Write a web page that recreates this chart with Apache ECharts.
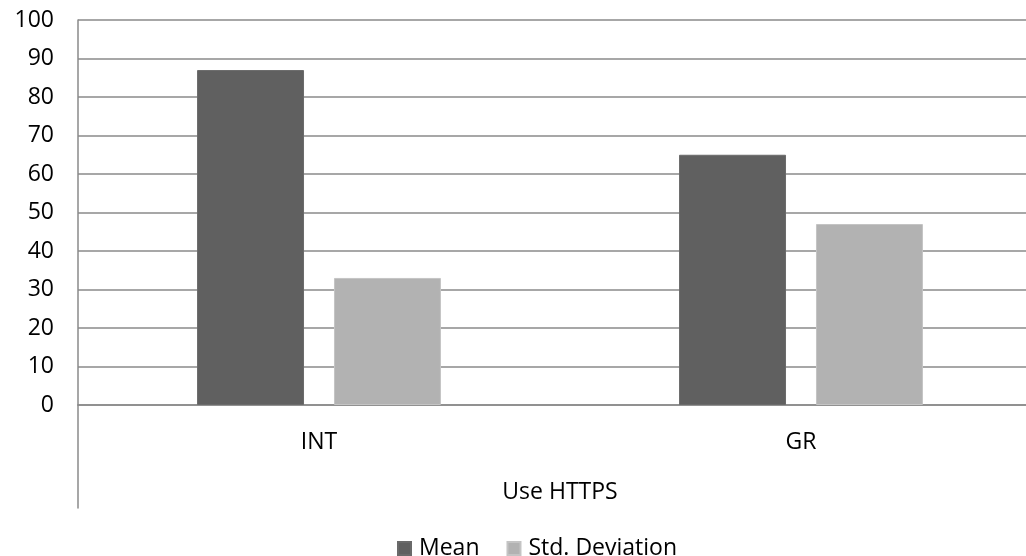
<!DOCTYPE html>
<html>
<head>
<meta charset="utf-8">
<script src="https://cdn.jsdelivr.net/npm/echarts@6/dist/echarts.min.js"></script>
<style>
html,body{margin:0;padding:0;background:#fff;overflow:hidden;width:1026px;height:556px;}
#chart{width:1042px;height:556px;}
</style>
</head>
<body>
<div id="chart"></div>
<script>
var categories = ['INT', 'GR'];
var meanValues = [87, 65];
var stdValues = [33, 47];
var axisTitle = 'Use HTTPS';
var yMin = 0, yMax = 100, yStep = 10;

var FONT = 'Open Sans';
var FS = 23;
var chart = echarts.init(document.getElementById('chart'));
var gridColor = '#8a8a8a';
chart.setOption({
  animation: false,
  backgroundColor: '#fff',
  textStyle: { fontFamily: FONT, color: '#000' },
  legend: {
    left: 392, top: 532,
    icon: 'rect', itemWidth: 13, itemHeight: 13, itemGap: 27,
    textStyle: { fontFamily: FONT, fontSize: FS, color: '#000', padding: [0, 0, 0, 3] },
    data: ['Mean', 'Std. Deviation']
  },
  grid: [
    { left: 78, top: 20, right: 0, height: 385 },
    { left: 78, top: 405, right: 0, height: 103 }
  ],
  xAxis: [
    {
      type: 'category', gridIndex: 0, data: categories,
      axisLine: { lineStyle: { color: gridColor, width: 1.5 } },
      axisTick: { show: false },
      axisLabel: { margin: 26, fontSize: FS, color: '#000', fontFamily: FONT },
      name: axisTitle, nameLocation: 'middle', nameGap: 76,
      nameTextStyle: { fontSize: FS, color: '#000', fontFamily: FONT }
    },
    { type: 'category', gridIndex: 1, data: categories, show: false }
  ],
  yAxis: [
    {
      type: 'value', gridIndex: 0, min: yMin, max: yMax, interval: yStep,
      axisLine: { show: true, lineStyle: { color: gridColor, width: 1.5 } },
      axisTick: { show: false },
      splitLine: { lineStyle: { color: gridColor, width: 1.5 } },
      axisLabel: { margin: 24, fontSize: FS, color: '#000', fontFamily: FONT }
    },
    {
      type: 'value', gridIndex: 1, min: 0, max: 1,
      axisLine: { show: true, lineStyle: { color: gridColor, width: 1.5 } },
      axisTick: { show: false }, axisLabel: { show: false }, splitLine: { show: false }
    }
  ],
  series: [
    {
      name: 'Mean', type: 'bar', data: meanValues,
      xAxisIndex: 0, yAxisIndex: 0,
      barCategoryGap: '49.4%', barGap: '28%',
      itemStyle: { color: '#606060', borderColor: '#6a6a6a', borderWidth: 1 }
    },
    {
      name: 'Std. Deviation', type: 'bar', data: stdValues,
      xAxisIndex: 0, yAxisIndex: 0,
      barCategoryGap: '49.4%', barGap: '28%',
      itemStyle: { color: '#b2b2b2', borderColor: '#c4c4c4', borderWidth: 1 }
    }
  ]
});
</script>
</body>
</html>
